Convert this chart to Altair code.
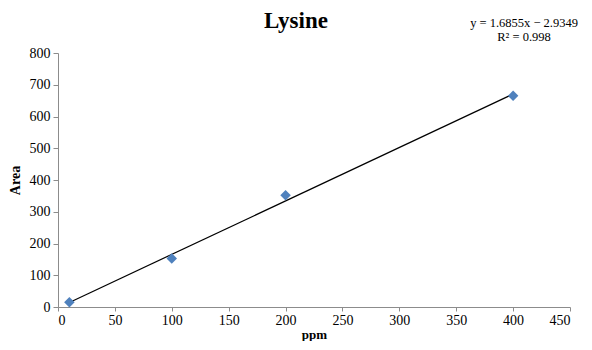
import altair as alt
import pandas as pd

ppm = [10, 100, 200, 400]
area = [15, 153, 352, 665]
title_text = ["Lysine"]
equation_lines = ["y = 1.6855x − 2.9349", "R² = 0.998"]

df = pd.DataFrame({"ppm": ppm, "Area": area})
FONT = "Liberation Serif"

base = alt.Chart(df)

x_enc = alt.X("ppm:Q", scale=alt.Scale(domain=[0, 450], nice=False),
              axis=alt.Axis(values=list(range(0, 451, 50)), title="ppm",
                            tickSize=4, labelPadding=2, titlePadding=1, titleFontSize=13))
y_enc = alt.Y("Area:Q", scale=alt.Scale(domain=[0, 800], nice=False),
              axis=alt.Axis(values=list(range(0, 801, 100)), title="Area"))

trend = base.transform_regression("ppm", "Area", method="linear", extent=[10, 400]).mark_line(
    color="black", strokeWidth=1.2
).encode(x=x_enc, y=y_enc)

points = base.mark_point(shape="diamond", filled=True, size=110, color="#4F81BD", opacity=1).encode(
    x=x_enc, y=y_enc
)

def text_layer(txt, x, y, size, weight="normal", align="center"):
    return alt.Chart(pd.DataFrame({"t": [txt]})).mark_text(
        font=FONT, fontSize=size, fontWeight=weight, align=align,
        baseline="alphabetic", color="black"
    ).encode(text="t:N", x=alt.value(x), y=alt.value(y))

title = text_layer(title_text[0], 238, -25, 23, "bold")
eq1 = text_layer(equation_lines[0], 520, -26, 12.5, align="right")
eq2 = text_layer(equation_lines[1], 466, -12, 12.5)

chart = alt.layer(trend, points, title, eq1, eq2).properties(
    width=512,
    height=254,
    autosize=alt.AutoSizeParams(type="none"),
    padding={"left": 50, "top": 45, "right": 14, "bottom": 34},
).configure_view(stroke=None).configure_axis(
    labelFont=FONT, titleFont=FONT, labelFontSize=14, titleFontSize=14, titleFontWeight="bold",
    labelColor="black", titleColor="black", domainColor="#8c8c8c", tickColor="#8c8c8c",
    grid=False, tickSize=5, labelPadding=3,
).configure_axisY(titlePadding=7)

chart.save("out.html", embed_options={"renderer": "svg", "actions": False})
